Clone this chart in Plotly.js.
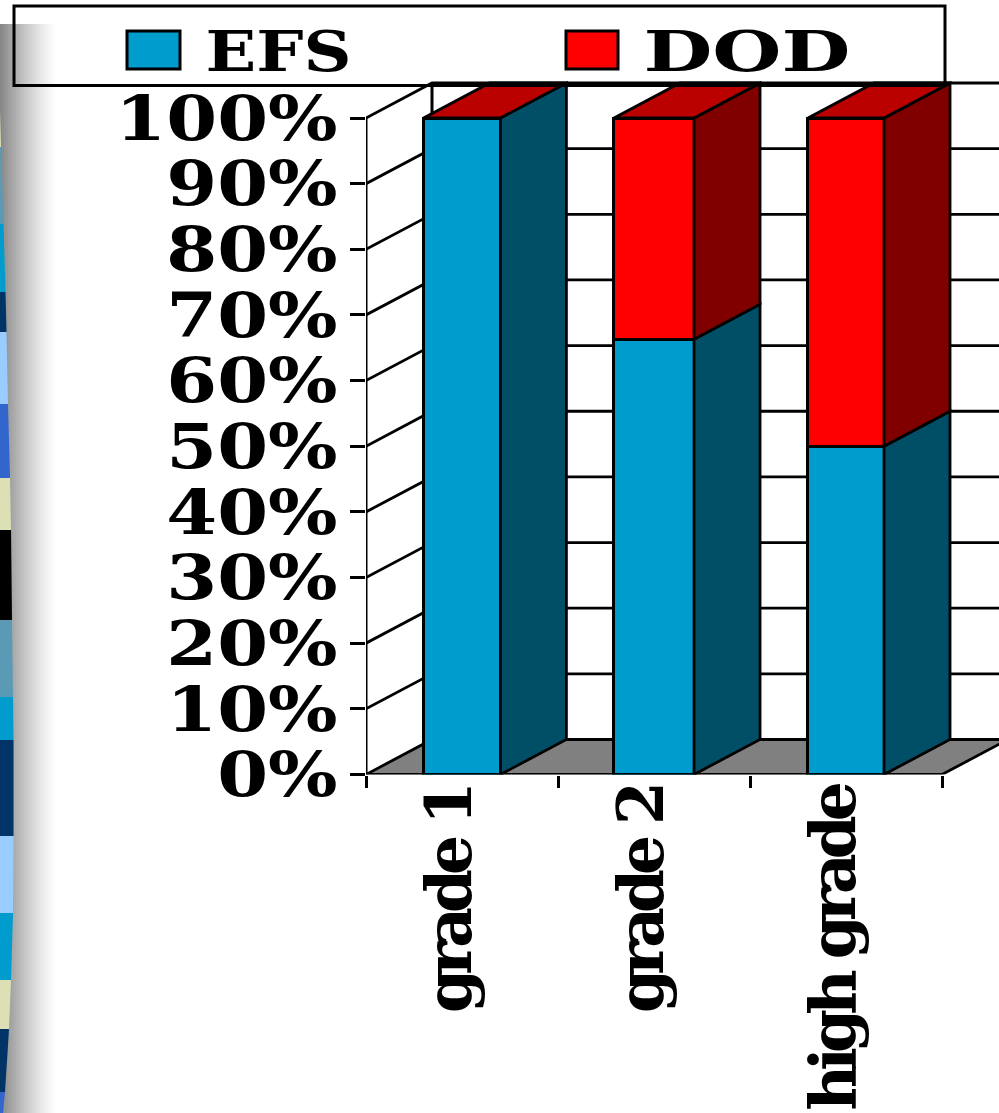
<!DOCTYPE html>
<html>
<head>
<meta charset="utf-8">
<script src="https://cdn.plot.ly/plotly-3.0.1.min.js"></script>
<style>html,body{margin:0;padding:0;background:#fff;overflow:hidden}</style>
</head>
<body>
<div id="chart" style="width:999px;height:1113px"></div>
<script>
// Stacked shares per tumour grade
const categories = ['grade 1', 'grade 2', 'high grade'];
const efsValues = [100, 66.3, 50];
const dodValues = [0, 33.7, 50];
const yTicks = [0, 10, 20, 30, 40, 50, 60, 70, 80, 90, 100];
const yLabels = yTicks.map(v => v + '%');
const barWidths = [0.4, 0.417, 0.396];

// Page dimensions and plot placement, in pixels
const W = 999, H = 1113;
const axisLeft = 366, axisRight = 942, axisTop = 118, axisBottom = 774.5;
const depthPx = [66, 35];

// Conversions from pixels to plot units
const unitX = (axisRight - axisLeft) / 3;
const unitY = (axisBottom - axisTop) / 100;
const dx = depthPx[0] / unitX;
const dy = depthPx[1] / unitY;
const xMin = -0.5, xMax = 2.5;
// The plot runs on to the page edges so the depth faces stay visible
const xEdge = (W - axisLeft) / unitX + xMin;
const yEdge = axisBottom / unitY;

// Patterned strip at the left edge: [top y, bottom y, colour]
const stripY = [110, 147, 224, 292, 332, 404, 478, 530, 620, 697, 740, 836, 913, 980, 1029, 1092, 1113];
const stripEdge = [0, 1, 3.5, 5.5, 6.5, 8, 10, 11, 12, 13, 13.5, 13.5, 13, 11, 9, 5, 3];
const stripColors = ['#dfe0b5', '#5a9ab5', '#009ccd', '#003366', '#99ccff', '#3366cc', '#dddfb5',
  '#000000', '#5a9ab5', '#009ccd', '#003366', '#99ccff', '#009ccd', '#dddfb5', '#003366', '#3366cc'];

const px = x => x / W;
const py = y => 1 - y / H;

const shapes = [];
// Soft grey shade running down the left side
const shadeDark = 136, shadeWidth = 56, shadeStep = 2;
for (let x = 0; x < shadeWidth; x += shadeStep) {
  const g = Math.round(255 - (255 - shadeDark) * Math.pow(1 - x / shadeWidth, 1.3));
  shapes.push({type: 'rect', layer: 'below', xref: 'paper', yref: 'paper',
    x0: px(x), x1: px(x + shadeStep), y0: py(24), y1: 0,
    fillcolor: `rgb(${g},${g},${g})`, line: {width: 0}});
}
stripColors.forEach((c, i) => {
  const p = `M0,${py(stripY[i])}L${px(stripEdge[i])},${py(stripY[i])}L${px(stripEdge[i + 1])},${py(stripY[i + 1])}L0,${py(stripY[i + 1])}Z`;
  shapes.push({type: 'path', layer: 'below', xref: 'paper', yref: 'paper', path: p, fillcolor: c, line: {width: 0}});
});
// Legend frame
shapes.push({type: 'rect', layer: 'above', xref: 'paper', yref: 'paper',
  x0: px(14), x1: px(945), y0: py(85.5), y1: py(6), line: {color: '#000', width: 3}, fillcolor: 'rgba(0,0,0,0)'});

// Legend entries
const legendEntries = [
  {name: 'EFS', color: '#009ccd', box: [127, 180], textX: 205, textW: 146},
  {name: 'DOD', color: '#ff0000', box: [566, 618], textX: 643, textW: 207}
];
legendEntries.forEach(e => shapes.push({type: 'rect', layer: 'above', xref: 'paper', yref: 'paper',
  x0: px(e.box[0]), x1: px(e.box[1]), y0: py(69), y1: py(31), fillcolor: e.color, line: {color: '#000', width: 3}}));
const annotations = legendEntries.map(e => ({
  xref: 'paper', yref: 'paper', x: px(e.textX + e.textW / 2), y: py(51), xanchor: 'center', yanchor: 'middle', showarrow: false,
  text: e.name, font: {family: 'DejaVu Serif', size: 56, weight: 700, color: '#000'}
}));

// Open polygons joined into a single trace with gaps between them
function polyTrace(polys, fill, axes, lw) {
  const xs = [], ys = [];
  polys.forEach(poly => {
    poly.forEach(p => { xs.push(p[0]); ys.push(p[1]); });
    xs.push(null); ys.push(null);
  });
  return Object.assign({type: 'scatter', mode: 'lines', x: xs, y: ys, hoverinfo: 'skip',
    fill: fill ? 'toself' : 'none', fillcolor: fill || undefined, line: {color: '#000', width: lw || 2.8, simplify: false},
    showlegend: false}, axes);
}

const back = {xaxis: 'x', yaxis: 'y'};
const front = {xaxis: 'x2', yaxis: 'y2'};
const traces = [];

// Floor, left wall, back wall grid and the two axis lines
traces.push(polyTrace([[[xMin, 0], [xMin + dx, dy], [xMax + dx, dy], [xMax, 0], [xMin, 0]]], '#808080', back));
traces.push(polyTrace(yTicks.map(k => [[xMin, k], [xMin + dx, k + dy], [xEdge, k + dy]]).slice(1), null, back));
traces.push(polyTrace([[[xMin + dx, dy], [xMin + dx, 100 + dy]], [[xMin, 0], [xMin, 100]]], null, back, 3));

// Front faces of the stacked columns
const barX = categories.map((c, i) => i);
traces.push({type: 'bar', name: 'EFS', x: barX, y: efsValues, width: barWidths, marker: {color: '#009ccd', line: {color: '#000', width: 3}}, hoverinfo: 'skip', ...front});
traces.push({type: 'bar', name: 'DOD', x: barX, y: dodValues, width: barWidths, marker: {color: '#ff0000', line: {color: '#000', width: 3}}, hoverinfo: 'skip', ...front});

// Side and top faces follow the same values
const sideFace = (i, lo, hi) => {
  const r = i + barWidths[i] / 2;
  return [[r, lo], [r + dx, lo + dy], [r + dx, hi + dy], [r, hi], [r, lo]];
};
traces.push(polyTrace(efsValues.map((v, i) => sideFace(i, 0, v)), '#004f66', front));
traces.push(polyTrace(dodValues.map((v, i) => sideFace(i, efsValues[i], efsValues[i] + v)).filter((p, i) => dodValues[i] > 0), '#800000', front));
traces.push(polyTrace(categories.map((c, i) => {
  const l = i - barWidths[i] / 2, r = i + barWidths[i] / 2, t = efsValues[i] + dodValues[i];
  return [[l, t], [l + dx, t + dy], [r + dx, t + dy], [r, t], [l, t]];
}), '#bb0000', front));

const valueFont = {family: 'DejaVu Serif', size: 62, weight: 700, color: '#000'};
const categoryFont = {family: 'DejaVu Serif', size: 63, weight: 700, color: '#000'};
const labelShift = 0.06;
const xDomain = [axisLeft / W, 1], yDomain = [py(axisBottom), 1];
const layout = {
  width: W, height: H, margin: {l: 0, r: 0, t: 0, b: 0, autoexpand: false},
  paper_bgcolor: '#fff', plot_bgcolor: 'rgba(0,0,0,0)', showlegend: false, barmode: 'stack',
  shapes, annotations,
  xaxis: {domain: xDomain, range: [xMin, xEdge], tickvals: [-0.5, 0.5, 1.5, 2.5], ticktext: ['', '', '', ''],
    ticks: 'outside', ticklen: 12, tickwidth: 3, tickcolor: '#000', showline: false, showgrid: false, zeroline: false, fixedrange: true},
  yaxis: {domain: yDomain, range: [0, yEdge], tickvals: yTicks, ticktext: yLabels,
    ticks: 'outside', ticklen: 15, tickwidth: 3, tickcolor: '#000', showline: false, showgrid: false, zeroline: false,
    tickfont: valueFont, ticklabelstandoff: 0, fixedrange: true},
  xaxis2: {domain: xDomain, range: [xMin, xEdge], overlaying: 'x', anchor: 'y2', side: 'bottom',
    tickvals: barX.map(v => v - labelShift), ticktext: categories, tickangle: -90, ticks: '', ticklabelstandoff: -1, tickfont: categoryFont, showline: false, showgrid: false, zeroline: false, fixedrange: true},
  yaxis2: {domain: yDomain, range: [0, yEdge], overlaying: 'y', anchor: 'x2', visible: false, fixedrange: true}
};

Plotly.newPlot('chart', traces, layout, {displayModeBar: false, staticPlot: true}).then(() => {
  // Wide lettering on the value axis and legend, tight lettering on the category axis
  const widen = (t, len) => {
    t.setAttribute('textLength', len);
    t.setAttribute('lengthAdjust', 'spacingAndGlyphs');
  };
  document.querySelectorAll('.ytick text').forEach(t => widen(t, t.getComputedTextLength() * 1.18));
  document.querySelectorAll('.annotation-text').forEach((t, i) => widen(t, legendEntries[i].textW));
  document.querySelectorAll('.x2tick text').forEach(t => { t.style.letterSpacing = '-6px'; });
});
</script>
</body>
</html>
